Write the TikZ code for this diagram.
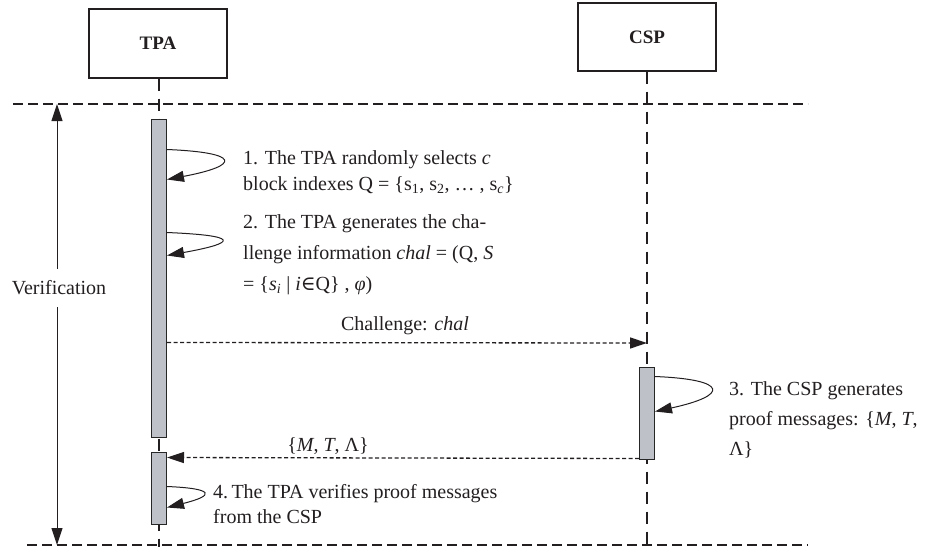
\documentclass[tikz,border=0pt]{standalone}
\usepackage{fontspec}
\setmainfont{Liberation Serif}
\newfontfamily\symfont{DejaVu Serif}
\usetikzlibrary{arrows.meta,calc}
\definecolor{barfill}{RGB}{190,194,200}
\definecolor{ink}{RGB}{35,31,32}
\begin{document}
\begin{tikzpicture}[x=1pt,y=-1pt,color=ink,
  lbl/.style={inner sep=0pt, align=left, anchor=base west},
  actor/.style={draw, line width=1.1pt, inner sep=0pt, font=\fontsize{19}{20}\selectfont\bfseries},
  actbar/.style={draw=black!85, fill=barfill, line width=1pt, minimum width=15pt, inner sep=0pt},
  life/.style={line width=1.1pt, dash pattern=on 12pt off 8pt},
  sepline/.style={line width=1.1pt, dash pattern=on 10pt off 5pt},
  tip/.style={-{Triangle[length=17pt,width=11pt]}},
  selfloop/.style={line width=1pt, tip},
  msg/.style={line width=1.3pt, dash pattern=on 4pt off 2.5pt, tip}]
\useasboundingbox (0,0) rectangle (929,547);

% actors
\node[actor, minimum width=138pt, minimum height=69pt] (tpa) at (158,43.5) {TPA};
\node[actor, minimum width=138pt, minimum height=68pt] (csp) at (647,37) {CSP};

% separators
\coordinate (s1l) at (13,104); \coordinate (s1r) at (808,104);
\coordinate (s2l) at (27,545); \coordinate (s2r) at (808,545);
\draw[sepline] (s1l) -- (s1r);
\draw[sepline] (s2l) -- (s2r);

% lifelines
\coordinate (tpaend) at (159,547);
\coordinate (cspend) at (647,547);
\draw[life] (tpa.south -| tpaend) -- (tpaend);
\draw[life] (csp.south) -- (cspend);

% activation bars
\node[actbar, minimum height=318pt] (b1) at (159,278) {};
\node[actbar, minimum height=72pt] (b2) at (159,488) {};
\node[actbar, minimum height=92pt] (b3) at (647,413) {};

% self loops
\draw[selfloop] ($(b1.north east)+(0,31)$) .. controls +(74,3) and +(74,-14) .. ($(b1.north east)+(0,61)$);
\draw[selfloop] ($(b1.north east)+(0,114)$) .. controls +(72,3) and +(72,-13) .. ($(b1.north east)+(0,137)$);
\draw[selfloop] ($(b3.north east)+(0,10)$) .. controls +(74,3) and +(74,-16) .. ($(b3.north east)+(0,45)$);
\draw[selfloop] ($(b2.north east)+(0,35)$) .. controls +(48,2) and +(48,-12) .. ($(b2.north east)+(0,56)$);

% messages
\coordinate (chalend) at (647,343);
\draw[msg] ($(b1.north east)+(0,224)$) -- (chalend);
\node[anchor=base, inner sep=0pt, font=\fontsize{20}{24}\selectfont] (chal) at (405,330) {Challenge: \textit{chal}};
\draw[msg] ($(b3.south west)+(0,-1)$) -- ($(b2.north east)+(0,6)$);
\node[anchor=base, inner sep=0pt, font=\fontsize{20}{24}\selectfont] (mtl) at (328,451) {\{\textit{M}, \textit{T}, Λ\}};

% texts (base anchor = baseline of the last line)
\node[lbl, font=\fontsize{20}{26}\selectfont] (t1) at (243,190)
  {1. The TPA randomly selects \textit{c}\\
   block indexes Q = \{s\textsubscript{1}, s\textsubscript{2}, … , s\textsubscript{\textit{c}}\}};
\node[lbl, font=\fontsize{20}{31}\selectfont] (t2) at (243,290)
  {2. The TPA generates the cha-\\
   llenge information \textit{chal} = (Q, \textit{S}\\
   = \{\textit{s}\textsubscript{\textit{i}} | \textit{i}{\symfont ∈}Q\} , \textit{φ})};
\node[lbl, font=\fontsize{20}{30}\selectfont] (t3) at (729,455)
  {3. The CSP generates\\
   proof messages: \{\textit{M}, \textit{T},\\
   Λ\}};
\node[lbl, font=\fontsize{20}{25}\selectfont] (t4) at (213,523)
  {4.\,The TPA verifies proof messages\\
   from the CSP};

% verification span
\node[font=\fontsize{20}{24}\selectfont, inner sep=0pt] (ver) at (59,288) {Verification};
\coordinate (vtop) at (57,104);
\coordinate (vbot) at (57,545);
\draw[line width=1pt, tip] ($(vtop |- ver.north)+(0,-12)$) -- (vtop);
\draw[line width=1pt, tip] ($(vbot |- ver.south)+(0,12)$) -- (vbot);
\end{tikzpicture}
\end{document}
